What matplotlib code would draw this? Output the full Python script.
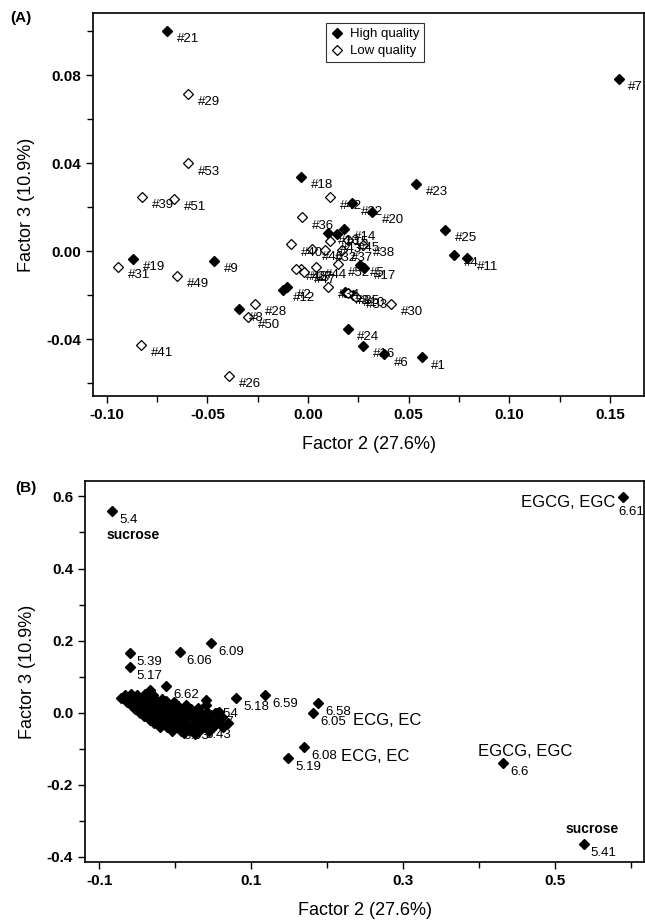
import matplotlib
matplotlib.use('Agg')
import matplotlib.pyplot as plt
from matplotlib.ticker import MultipleLocator

plt.rcParams['font.family'] = ['Liberation Sans', 'DejaVu Sans']

# ---------------- Panel A data ----------------
hq_labels = ['#1', '#2', '#3', '#4', '#5', '#6', '#7', '#8', '#9', '#10', '#11', '#12', '#13',
             '#14', '#15', '#16', '#17', '#18', '#19', '#20', '#21', '#22', '#23', '#24', '#25']
hq_x = [0.0565, -0.0103, 0.0184, 0.0727, 0.0258, 0.0379, 0.1544, -0.0341, -0.0466, 0.0225, 0.0789, -0.0123, 0.0101,
        0.0179, 0.0143, 0.0275, 0.0278, -0.0035, -0.0870, 0.0317, -0.0702, 0.0217, 0.0537, 0.0197, 0.0681]
hq_y = [-0.0483, -0.0162, -0.0188, -0.0018, -0.0064, -0.0470, 0.0783, -0.0265, -0.0044, -0.0200, -0.0033, -0.0177, 0.0083,
        0.0100, 0.0077, -0.0430, -0.0075, 0.0336, -0.0036, 0.0179, 0.1001, 0.0217, 0.0305, -0.0355, 0.0095]

lq_labels = ['#26', '#27', '#28', '#29', '#30', '#31', '#32', '#33', '#34', '#35', '#36', '#37', '#38', '#39',
             '#40', '#41', '#42', '#43', '#44', '#45', '#46', '#47', '#48', '#49', '#50', '#51', '#52', '#53']
lq_x = [-0.0393, -0.0036, -0.0263, -0.0597, 0.0411, -0.0943, 0.0084, 0.0239, 0.0101, 0.0200, -0.0028, 0.0167, 0.0275, -0.0824,
        -0.0086, -0.0830, 0.0109, 0.0109, 0.0038, 0.0199, 0.0020, -0.0020, -0.0060, -0.0650, -0.0297, -0.0666, 0.0150, -0.0597]
lq_y = [-0.0567, -0.0082, -0.0241, 0.0714, -0.0241, -0.0071, 0.0005, -0.0209, -0.0162, -0.0190, 0.0153, 0.0005, 0.0027, 0.0247,
        0.0030, -0.0427, 0.0244, 0.0045, -0.0071, 0.0050, 0.0009, -0.0094, -0.0080, -0.0112, -0.0299, 0.0236, -0.0060, 0.0399]

# ---------------- Panel B data ----------------
b_labels = ['5.4', '5.39', '6.06', '6.09', '5.17', '6.62', '5.18', '6.59', '6.58', '6.05',
            '6.08', '5.19', '6.6', '5.41', '6.61', '6.54', '6.57', '6.03', '5.43']
b_x = [-0.0832, -0.0600, 0.0058, 0.0475, -0.0604, -0.0121, 0.0804, 0.1186, 0.1879, 0.1813,
       0.1693, 0.1488, 0.4313, 0.5374, 0.5890, 0.0400, 0.0340, 0.0020, 0.0300]
b_y = [0.5597, 0.1660, 0.1670, 0.1920, 0.1256, 0.0744, 0.0394, 0.0486, 0.0256, -0.0005,
       -0.0950, -0.1270, -0.1390, -0.3650, 0.5980, 0.0220, -0.0020, -0.0400, -0.0380]

# dense cluster of unlabelled loadings near the origin
cl_x = [-0.066, -0.058, -0.050, -0.040, -0.030,
        -0.071, -0.062, -0.054, -0.046, -0.037, -0.028, -0.018,
        -0.064, -0.057, -0.048, -0.041, -0.032, -0.022, -0.012, -0.002,
        -0.058, -0.051, -0.042, -0.034, -0.025, -0.016, -0.006, 0.004, 0.014,
        -0.053, -0.044, -0.036, -0.027, -0.020, -0.010, 0.001, 0.010, 0.021, 0.030,
        -0.046, -0.039, -0.029, -0.022, -0.012, -0.003, 0.008, 0.018, 0.027, 0.041, 0.052,
        -0.041, -0.032, -0.024, -0.015, -0.004, 0.006, 0.017, 0.026, 0.036, 0.047, 0.061,
        -0.034, -0.025, -0.016, -0.007, 0.004, 0.013, 0.024, 0.035, 0.044, 0.057,
        -0.028, -0.019, -0.008, 0.002, 0.012, 0.023, 0.032, 0.043, 0.054, 0.069,
        -0.020, -0.011, 0.000, 0.011, 0.019, 0.031, 0.039, 0.050, 0.063,
        -0.004, 0.008, 0.018, 0.031, 0.044,
        0.012, 0.026, -0.034, 0.040, 0.057]
cl_y = [0.050, 0.052, 0.049, 0.051, 0.048,
        0.041, 0.039, 0.042, 0.040, 0.038, 0.041, 0.039,
        0.030, 0.031, 0.029, 0.032, 0.030, 0.028, 0.031, 0.029,
        0.020, 0.021, 0.019, 0.022, 0.020, 0.018, 0.021, 0.019, 0.020,
        0.010, 0.011, 0.009, 0.012, 0.010, 0.008, 0.011, 0.009, 0.010, 0.012,
        0.000, 0.001, -0.001, 0.002, 0.000, -0.002, 0.001, -0.001, 0.000, 0.002, -0.001,
        -0.010, -0.009, -0.011, -0.008, -0.010, -0.012, -0.009, -0.011, -0.010, -0.008, -0.011,
        -0.020, -0.019, -0.021, -0.018, -0.020, -0.022, -0.019, -0.021, -0.020, -0.019,
        -0.030, -0.029, -0.031, -0.028, -0.030, -0.032, -0.029, -0.031, -0.030, -0.029,
        -0.040, -0.039, -0.041, -0.038, -0.040, -0.042, -0.039, -0.041, -0.040,
        -0.050, -0.051, -0.049, -0.052, -0.050,
        -0.058, -0.060, 0.062, 0.035, 0.001]

# ---------------- Figure ----------------
fig = plt.figure(figsize=(6.45, 9.24), dpi=100)

# Panel A
axA = fig.add_axes([93/645, 1-396/924, (644-93)/645, (396-13)/924])
axA.plot(hq_x, hq_y, linestyle='none', marker='D', ms=5.2, mfc='black', mec='black', label='High quality')
axA.plot(lq_x, lq_y, linestyle='none', marker='D', ms=5.2, mfc='white', mec='black', mew=0.9, label='Low quality')
for lab, x, y in zip(hq_labels + lq_labels, hq_x + lq_x, hq_y + lq_y):
    axA.annotate(lab, (x, y), xytext=(7, -6), textcoords='offset points', fontsize=9.5,
                 ha='left', va='center')
axA.set_xlim(-0.1069, 0.167)
axA.set_ylim(-0.0659, 0.1082)
axA.set_xticks([-0.10, -0.05, 0.0, 0.05, 0.10, 0.15])
axA.set_xticklabels(['-0.10', '-0.05', '0.00', '0.05', '0.10', '0.15'])
axA.xaxis.set_minor_locator(MultipleLocator(0.025))
axA.set_yticks([-0.04, 0.0, 0.04, 0.08])
axA.set_yticklabels(['-0.04', '0.00', '0.04', '0.08'])
axA.yaxis.set_minor_locator(MultipleLocator(0.02))
for t in axA.get_xticklabels() + axA.get_yticklabels():
    t.set_fontweight('bold'); t.set_fontsize(11)
axA.tick_params(which='major', direction='out', length=5, width=1)
axA.tick_params(which='minor', direction='out', length=4, width=1)
axA.set_xlabel('Factor 2 (27.6%)', fontsize=13, labelpad=10)
axA.set_ylabel('Factor 3 (10.9%)', fontsize=13, labelpad=8)
for s in axA.spines.values():
    s.set_linewidth(1.2)
leg = axA.legend(loc='upper center', bbox_to_anchor=(0.512, 0.99), fontsize=9.5, frameon=True,
                 fancybox=False, edgecolor='black', handlelength=1.0, handletextpad=0.5,
                 borderpad=0.35, labelspacing=0.35, markerscale=0.9)
leg.get_frame().set_linewidth(0.8)
fig.text(10/645, 1-18/924, '(A)', fontsize=11, fontweight='bold', va='center', ha='left')

# Panel B
axB = fig.add_axes([85/645, 1-862/924, (644-85)/645, (862-481)/924])
axB.plot(cl_x, cl_y, linestyle='none', marker='D', ms=5.6, mfc='black', mec='black')
axB.plot(b_x, b_y, linestyle='none', marker='D', ms=5.6, mfc='black', mec='black')
special_offsets = {'6.61': (-3, -11)}
for lab, x, y in zip(b_labels, b_x, b_y):
    axB.annotate(lab, (x, y), xytext=special_offsets.get(lab, (5, -6.5)), textcoords='offset points',
                 fontsize=9.5, ha='left', va='center')
# compound annotations
axB.annotate('sucrose', (b_x[0], b_y[0]), xytext=(15, -17), textcoords='offset points',
             fontsize=10, fontweight='bold', ha='center', va='center')
axB.annotate('EGCG, EGC', (b_x[14], b_y[14]), xytext=(-5, -4), textcoords='offset points',
             fontsize=12, ha='right', va='center')
axB.annotate('ECG, EC', (b_x[9], b_y[9]), xytext=(29, -5.5), textcoords='offset points',
             fontsize=12, ha='left', va='center')
axB.annotate('ECG, EC', (b_x[10], b_y[10]), xytext=(27, -7), textcoords='offset points',
             fontsize=12, ha='left', va='center')
axB.annotate('EGCG, EGC', (b_x[12], b_y[12]), xytext=(-18, 8), textcoords='offset points',
             fontsize=12, ha='left', va='center')
axB.annotate('sucrose', (b_x[13], b_y[13]), xytext=(-13, 11), textcoords='offset points',
             fontsize=10, fontweight='bold', ha='left', va='center')
axB.set_xlim(-0.119, 0.617)
axB.set_ylim(-0.415, 0.643)
axB.set_xticks([-0.1, 0.1, 0.3, 0.5])
axB.set_xticklabels(['-0.1', '0.1', '0.3', '0.5'])
axB.xaxis.set_minor_locator(MultipleLocator(0.1))
axB.set_yticks([-0.4, -0.2, 0.0, 0.2, 0.4, 0.6])
axB.set_yticklabels(['-0.4', '-0.2', '0.0', '0.2', '0.4', '0.6'])
axB.yaxis.set_minor_locator(MultipleLocator(0.1))
for t in axB.get_xticklabels() + axB.get_yticklabels():
    t.set_fontweight('bold'); t.set_fontsize(11)
axB.tick_params(which='major', direction='out', length=5, width=1)
axB.tick_params(which='minor', direction='out', length=4, width=1)
axB.set_xlabel('Factor 2 (27.6%)', fontsize=13, labelpad=10)
axB.set_ylabel('Factor 3 (10.9%)', fontsize=13, labelpad=8)
for s in axB.spines.values():
    s.set_linewidth(1.2)
fig.text(15/645, 1-488/924, '(B)', fontsize=11, fontweight='bold', va='center', ha='left')

fig.savefig('out.png', dpi=100)
